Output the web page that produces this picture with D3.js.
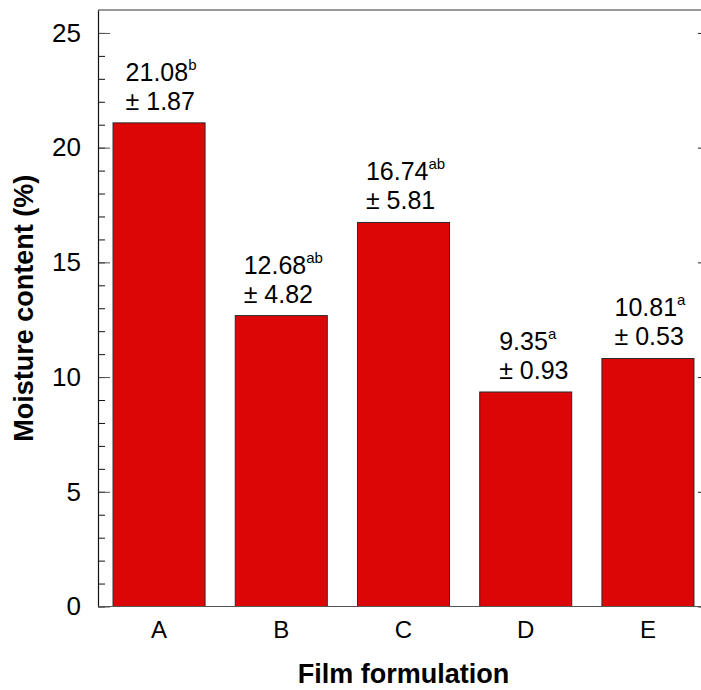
<!DOCTYPE html>
<html>
<head>
<meta charset="utf-8">
<script src="https://cdn.jsdelivr.net/npm/d3@7"></script>
<style>
  html, body { margin: 0; padding: 0; background: #fff; }
  svg { display: block; font-family: Arial, "Liberation Sans", sans-serif; }
</style>
</head>
<body>
<svg id="chart" width="701" height="690"></svg>
<script>
const categories = ["A", "B", "C", "D", "E"];
const means = [21.08, 12.68, 16.74, 9.35, 10.81];
const sds = [1.87, 4.82, 5.81, 0.93, 0.53];
const letters = ["b", "ab", "ab", "a", "a"];
const majorTicks = [0, 5, 10, 15, 20, 25];
const minorTicks = d3.range(0, 26, 1);

(function () {
const svg = d3.select("#chart");
const pLeft = 98, pRight = 709, pTop = 10, pBottom = 606.5;

const x = d3.scaleBand().domain(categories).range([pLeft, pRight])
  .paddingInner(0.247).paddingOuter(0.123);
const y = d3.scaleLinear().domain([0, 26]).range([pBottom, pTop]);

// top frame line
svg.append("line").attr("x1", pLeft).attr("x2", 701).attr("y1", pTop).attr("y2", pTop)
  .attr("stroke", "#777").attr("stroke-width", 1.5);

// bars
svg.append("g").selectAll("rect").data(categories).join("rect")
  .attr("x", d => x(d))
  .attr("y", (d, i) => y(means[i]))
  .attr("width", x.bandwidth())
  .attr("height", (d, i) => y(0) - y(means[i]))
  .attr("fill", "#dd0606")
  .attr("stroke", "#2a2a2a")
  .attr("stroke-width", 1);

// minor ticks (inward)
const yMinor = d3.axisRight(y).tickValues(minorTicks).tickSize(7).tickFormat("");
svg.append("g").attr("transform", `translate(${pLeft},0)`).call(yMinor)
  .call(g => g.select(".domain").remove())
  .selectAll("line").attr("stroke", "#111");

// major ticks (inward)
const yMajor = d3.axisRight(y).tickValues(majorTicks).tickSize(12).tickFormat("");
svg.append("g").attr("transform", `translate(${pLeft},0)`).call(yMajor)
  .call(g => g.select(".domain").remove())
  .selectAll("line").attr("stroke", "#555");

// labels + axis line
const yLab = d3.axisLeft(y).tickValues(majorTicks).tickSize(0).tickPadding(17).tickFormat(d3.format("d"));
svg.append("g").attr("transform", `translate(${pLeft},0)`).call(yLab)
  .call(g => g.select(".domain").attr("stroke", "#111").attr("stroke-width", 1.2))
  .selectAll("text").attr("font-size", 26).attr("fill", "#000")
  .attr("font-family", "Arial, 'Liberation Sans', sans-serif");

// right side small ticks
const yRight = d3.axisLeft(y).tickValues(majorTicks).tickSize(3).tickFormat("");
svg.append("g").attr("transform", `translate(701,0)`).call(yRight)
  .call(g => g.select(".domain").remove())
  .selectAll("line").attr("stroke", "#222");

// bottom axis line
svg.append("line").attr("x1", pLeft).attr("x2", 701).attr("y1", y(0)).attr("y2", y(0))
  .attr("stroke", "#555").attr("stroke-width", 1);

// x labels
const xAxis = d3.axisBottom(x).tickSize(0).tickPadding(14);
svg.append("g").attr("transform", `translate(0,${pBottom})`).call(xAxis)
  .call(g => g.select(".domain").remove())
  .selectAll("text").attr("font-size", 24).attr("fill", "#000")
  .attr("font-family", "Arial, 'Liberation Sans', sans-serif");

// value labels
const lbl = svg.append("g").selectAll("g").data(categories).join("g");
lbl.each(function (d, i) {
  const g = d3.select(this);
  const cx = x(d) + x.bandwidth() / 2;
  const yTop = y(means[i]);
  const t1 = g.append("text").attr("y", yTop - 42).attr("font-size", 25).attr("fill", "#000");
  t1.append("tspan").text(means[i].toFixed(2));
  t1.append("tspan").text(letters[i]).attr("font-size", 15).attr("dy", -11);
  const w = t1.node().getComputedTextLength();
  const x0 = cx - w / 2 + 2;
  t1.attr("x", x0);
  g.append("text").attr("x", x0).attr("y", yTop - 13).attr("font-size", 25).attr("fill", "#000")
    .text("± " + sds[i].toFixed(2));
});

// axis titles
svg.append("text")
  .attr("transform", `translate(33,${(pTop + pBottom) / 2}) rotate(-90)`)
  .attr("text-anchor", "middle").attr("font-size", 27).attr("font-weight", "bold")
  .text("Moisture content (%)");
svg.append("text")
  .attr("x", (x("A") + x("E") + x.bandwidth()) / 2).attr("y", 683)
  .attr("text-anchor", "middle").attr("font-size", 27).attr("font-weight", "bold")
  .text("Film formulation");
})();
</script>
</body>
</html>
